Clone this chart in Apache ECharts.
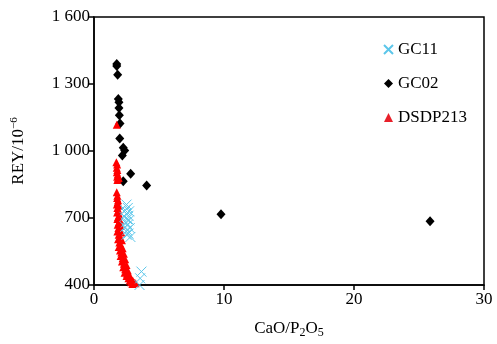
<!DOCTYPE html>
<html>
<head>
<meta charset="utf-8">
<script src="https://cdn.jsdelivr.net/npm/echarts@6/dist/echarts.min.js"></script>
<style>
  html, body { margin: 0; padding: 0; background: #fff; }
  #chart { width: 497px; height: 344px; }
</style>
</head>
<body>
<div id="chart"></div>
<script>
// CaO/P2O5 vs REY
const yTicks = [400, 700, 1000, 1300, 1600];
const xTicks = [0, 10, 20, 30];

const gc11 = [
  [2.5, 760], [2.6, 745], [2.4, 735], [2.7, 730], [2.5, 720], [2.65, 710],
  [2.35, 705], [2.55, 695], [2.7, 690], [2.45, 680], [2.6, 670], [2.4, 660],
  [2.75, 655], [2.55, 645], [2.5, 625], [2.65, 630], [2.8, 615],
  [3.65, 460], [3.55, 430], [3.5, 400]
];

const gc02 = [
  [1.75, 1390], [1.75, 1381], [1.82, 1341], [1.87, 1233], [1.92, 1218],
  [1.92, 1193], [1.95, 1160], [2.0, 1123], [1.98, 1056], [2.25, 1014],
  [2.36, 1002], [2.18, 980], [2.82, 898], [2.25, 865], [4.05, 846],
  [9.77, 717], [25.85, 686]
];

const dsdp213 = [
  [1.75, 1118],
  [1.72, 950], [1.78, 940], [1.75, 925], [1.8, 915], [1.76, 905], [1.82, 895],
  [1.78, 885], [1.85, 878], [1.8, 870], [1.9, 880],
  [1.75, 815], [1.8, 800], [1.78, 790], [1.85, 780], [1.82, 770], [1.76, 760],
  [1.9, 755], [1.8, 745], [1.88, 735], [1.78, 725], [1.95, 715], [1.85, 705],
  [1.8, 695], [2.0, 690], [1.9, 680], [1.82, 670], [2.05, 665], [1.88, 655],
  [1.95, 645], [1.8, 640], [2.1, 635], [1.9, 625], [2.0, 615], [1.85, 605],
  [2.15, 600], [1.95, 590], [2.05, 580], [1.9, 570], [2.2, 565], [2.0, 555],
  [2.1, 545], [2.3, 540], [2.05, 530], [2.2, 520], [2.4, 515], [2.15, 505],
  [2.3, 495], [2.5, 490], [2.25, 480], [2.4, 470], [2.6, 465], [2.35, 455],
  [2.55, 450], [2.7, 445], [2.5, 440], [2.8, 435], [2.65, 430], [2.9, 425],
  [2.75, 420], [3.0, 418], [2.85, 412], [3.1, 410], [2.95, 405], [3.2, 408]
];

const font = "Liberation Serif";
const chart = echarts.init(document.getElementById("chart"));

const crossPath = "path://M0,0 L10,10 M10,0 L0,10";

const option = {
  animation: false,
  textStyle: {fontFamily: font},
  grid: {
    left: 94,
    right: 13,
    top: 17,
    bottom: 58,
    show: true,
    borderColor: "#000",
    borderWidth: 1.5
  },
  legend: {
    orient: "vertical",
    left: 378,
    top: 36,
    itemGap: 17,
    itemWidth: 9,
    itemHeight: 9,
    textStyle: {fontFamily: font, fontSize: 17, color: "#000"},
    data: [
      {name: "GC11"},
      {name: "GC02", icon: "diamond", itemStyle: {color: "#000"}},
      {name: "DSDP213", icon: "triangle", itemStyle: {color: "#e8202a"}}
    ]
  },
  xAxis: {
    type: "value",
    min: 0,
    max: 30,
    interval: 10,
    splitLine: {show: false},
    axisLine: {onZero: false, lineStyle: {color: "#000", width: 1.5}},
    axisTick: {inside: false, length: 5, lineStyle: {color: "#000", width: 1.5}},
    axisLabel: {
      color: "#000", fontSize: 17, fontFamily: font, margin: 6,
      customValues: xTicks
    },
    name: "{a|CaO/P}{s|2}{a|O}{s|5}",
    nameLocation: "middle",
    nameGap: 34,
    nameTextStyle: {
      rich: {
        a: {fontFamily: font, fontSize: 17, color: "#000"},
        s: {fontFamily: font, fontSize: 12, color: "#000", verticalAlign: "bottom", padding: [8, 0, 0, 0]}
      }
    }
  },
  yAxis: {
    type: "value",
    min: 400,
    max: 1600,
    splitLine: {show: false},
    axisLine: {onZero: false, lineStyle: {color: "#000", width: 1.5}},
    axisTick: {inside: false, length: 5, lineStyle: {color: "#000", width: 1.5}, customValues: yTicks},
    axisLabel: {
      color: "#000", fontSize: 17, fontFamily: font, margin: 4,
      customValues: yTicks,
      formatter: function (v) {
        return String(v).replace(/\B(?=(\d{3})+(?!\d))/g, " ");
      }
    },
    name: "{a|REY/10}{s|−6}",
    nameLocation: "middle",
    nameGap: 66,
    nameTextStyle: {
      rich: {
        a: {fontFamily: font, fontSize: 17, color: "#000"},
        s: {fontFamily: font, fontSize: 11, color: "#000", verticalAlign: "top", padding: [0, 0, 8, 0]}
      }
    }
  },
  series: [
    {
      name: "GC11",
      type: "scatter",
      data: gc11,
      symbol: crossPath,
      symbolSize: 10,
      z: 3,
      itemStyle: {color: "rgba(0,0,0,0)", borderColor: "#5cc6ea", borderWidth: 1, opacity: 1}
    },
    {
      name: "GC02",
      type: "scatter",
      data: gc02,
      symbol: "diamond",
      symbolSize: [9, 10],
      z: 2,
      itemStyle: {color: "#000", opacity: 1}
    },
    {
      name: "DSDP213",
      type: "scatter",
      data: dsdp213,
      symbol: "triangle",
      symbolSize: 8,
      z: 2,
      itemStyle: {color: "#f00", opacity: 1}
    }
  ]
};

chart.setOption(option);
</script>
</body>
</html>
